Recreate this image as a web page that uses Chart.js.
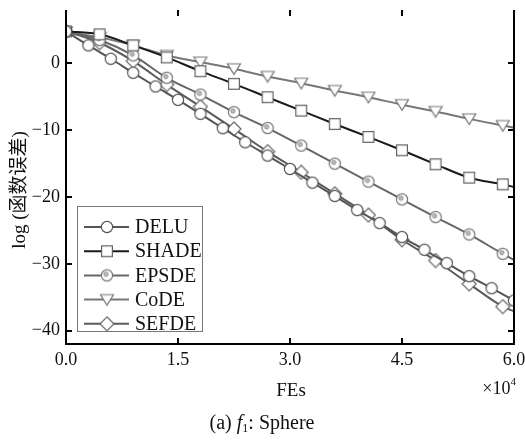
<!DOCTYPE html>
<html>
<head>
<meta charset="utf-8">
<script src="https://cdn.jsdelivr.net/npm/chart.js@4/dist/chart.umd.min.js"></script>
<style>
  html, body { margin: 0; padding: 0; background: #fff; }
</style>
</head>
<body>
<canvas id="myChart" width="525" height="443"></canvas>
<script>
// FEs (x10^4)
const FE_DELU = [0, 0.3, 0.6, 0.9, 1.2, 1.5, 1.8, 2.1, 2.4, 2.7, 3.0, 3.3, 3.6, 3.9, 4.2, 4.5, 4.8, 5.1, 5.4, 5.7, 6.0];
const FE_OTHER = [0, 0.45, 0.9, 1.35, 1.8, 2.25, 2.7, 3.15, 3.6, 4.05, 4.5, 4.95, 5.4, 5.85, 6.0];

// log(error)
const DELU = [4.8, 2.7, 0.7, -1.4, -3.45, -5.45, -7.55, -9.7, -11.8, -13.8, -15.8, -17.85, -19.85, -21.95, -23.9, -26.0, -27.9, -29.9, -31.85, -33.65, -35.5];
const SHADE = [4.8, 4.36, 2.7, 0.9, -1.16, -3.05, -5.06, -7.07, -9.07, -11.0, -13.0, -15.1, -17.1, -18.1, -18.5];
const EPSDE = [4.8, 3.5, 1.2, -2.15, -4.66, -7.3, -9.67, -12.3, -15.0, -17.7, -20.35, -23.0, -25.6, -28.5, -29.4];
const CODE = [4.7, 3.9, 2.7, 1.2, 0.2, -0.8, -1.95, -2.96, -4.06, -5.06, -6.17, -7.2, -8.3, -9.3, -9.6];
const SEFDE = [4.8, 3.1, 0.35, -3.16, -6.47, -9.8, -13.2, -16.3, -19.5, -22.7, -26.4, -29.5, -33.0, -36.4, -37.1];

const X_TICKS = [0, 1.5, 3.0, 4.5, 6.0];
const Y_TICKS = [-40, -30, -20, -10, 0];

const SERIF = "'Liberation Serif', 'Times New Roman', serif";

// marker pictures, used on the lines and in the legend
function marker(kind, stroke) {
    const c = document.createElement('canvas');
    c.width = 16; c.height = 16;
    const g = c.getContext('2d');
    g.fillStyle = '#fff';
    g.strokeStyle = stroke;
    g.lineWidth = 1.2;
    g.beginPath();
    if (kind === 'circle' || kind === 'dot') {
        g.arc(8, 8, 5.6, 0, 2 * Math.PI);
    } else if (kind === 'square') {
        g.rect(2.6, 2.6, 10.8, 10.8);
    } else if (kind === 'triangle') {
        g.moveTo(1.5, 3); g.lineTo(14.5, 3); g.lineTo(8, 13.5); g.closePath();
    } else if (kind === 'diamond') {
        g.moveTo(8, 1); g.lineTo(15, 8); g.lineTo(8, 15); g.lineTo(1, 8); g.closePath();
    }
    g.fill();
    g.stroke();
    if (kind === 'dot') {
        g.beginPath();
        g.arc(7, 6.8, 2.2, 0, 2 * Math.PI);
        g.fillStyle = '#bbb';
        g.fill();
        g.strokeStyle = '#888';
        g.lineWidth = 0.8;
        g.stroke();
    }
    return c;
}

const series = [
    {label: 'DELU', fe: FE_DELU, val: DELU, color: '#555', mk: marker('circle', '#555'), every: true},
    {label: 'SHADE', fe: FE_OTHER, val: SHADE, color: '#1a1a1a', mk: marker('square', '#666')},
    {label: 'EPSDE', fe: FE_OTHER, val: EPSDE, color: '#666', mk: marker('dot', '#777')},
    {label: 'CoDE', fe: FE_OTHER, val: CODE, color: '#777', mk: marker('triangle', '#777')},
    {label: 'SEFDE', fe: FE_OTHER, val: SEFDE, color: '#5a5a5a', mk: marker('diamond', '#666')}
];

const datasets = series.map(s => ({
    label: s.label,
    data: s.fe.map((x, i) => ({x: x, y: s.val[i]})),
    borderColor: s.color,
    borderWidth: 2,
    cubicInterpolationMode: 'monotone',
    pointStyle: s.mk,
    pointRadius: s.fe.map((x, i) => (s.every || i < s.fe.length - 1) ? 6 : 0),
    pointHoverRadius: 0
}));

const framePlugin = {
    id: 'frame',
    afterDraw(chart) {
        const ctx = chart.ctx;
        const a = chart.chartArea;
        const xs = chart.scales.x, ys = chart.scales.y;
        ctx.save();
        ctx.strokeStyle = '#000';
        ctx.lineWidth = 2;
        ctx.beginPath();
        ctx.moveTo(a.left, a.top); ctx.lineTo(a.left, a.bottom); ctx.lineTo(a.right, a.bottom); ctx.lineTo(a.right, a.top);
        // inner ticks
        X_TICKS.forEach(v => {
            const px = Math.round(xs.getPixelForValue(v));
            ctx.moveTo(px, a.bottom); ctx.lineTo(px, a.bottom - 6);
            ctx.moveTo(px, a.top); ctx.lineTo(px, a.top + 6);
        });
        Y_TICKS.forEach(v => {
            const py = Math.round(ys.getPixelForValue(v));
            ctx.moveTo(a.left, py); ctx.lineTo(a.left + 6, py);
            ctx.moveTo(a.right, py); ctx.lineTo(a.right - 6, py);
        });
        ctx.stroke();

        // legend
        const lx = 77.5, ly = 206.5, lw = 125, lh = 125;
        ctx.fillStyle = '#fff';
        ctx.fillRect(lx, ly, lw, lh);
        ctx.strokeStyle = '#777';
        ctx.lineWidth = 1;
        ctx.strokeRect(lx, ly, lw, lh);
        ctx.font = '20px ' + SERIF;
        ctx.textBaseline = 'middle';
        ctx.textAlign = 'left';
        series.forEach((s, i) => {
            const y = 227 + i * 24.2;
            ctx.strokeStyle = s.color;
            ctx.lineWidth = 2;
            ctx.beginPath();
            ctx.moveTo(84, y); ctx.lineTo(129, y);
            ctx.stroke();
            ctx.drawImage(s.mk, 107 - 8, y - 8);
            ctx.fillStyle = '#111';
            ctx.fillText(s.label, 135, y + 1);
        });

        // axis titles
        ctx.fillStyle = '#111';
        ctx.textAlign = 'center';
        ctx.font = '19px ' + SERIF;
        ctx.fillText('FEs', 291, 391);

        ctx.textAlign = 'right';
        ctx.font = '11px ' + SERIF;
        ctx.fillText('4', 516, 382);
        const w4 = ctx.measureText('4').width;
        ctx.font = '18px ' + SERIF;
        ctx.fillText('\u00d710', 516 - w4, 389);

        ctx.save();
        ctx.translate(20, 190);
        ctx.rotate(-Math.PI / 2);
        ctx.textAlign = 'center';
        ctx.font = "19px 'Liberation Serif', 'Noto Sans CJK SC', serif";
        ctx.fillText('log (函数误差)', 0, 0);
        ctx.restore();

        // caption
        const parts = [
            {t: '(a) ', f: '20px ' + SERIF, dy: 0},
            {t: 'f', f: 'italic 20px ' + SERIF, dy: 0},
            {t: '1', f: '12px ' + SERIF, dy: 5},
            {t: ': Sphere', f: '20px ' + SERIF, dy: 0}
        ];
        let total = 0;
        parts.forEach(p => { ctx.font = p.f; p.w = ctx.measureText(p.t).width; total += p.w; });
        let cx = 262 - total / 2;
        ctx.textAlign = 'left';
        parts.forEach(p => {
            ctx.font = p.f;
            ctx.fillText(p.t, cx, 424 + p.dy);
            cx += p.w;
        });
        ctx.restore();
    }
};

const chartRef = document.getElementById('myChart').getContext('2d');
new Chart(chartRef, {
    type: 'line',
    data: {datasets: datasets},
    options: {
        responsive: false,
        animation: false,
        layout: {padding: {top: 10, right: 11, left: 0, bottom: 0}},
        plugins: {legend: {display: false}, tooltip: {enabled: false}},
        scales: {
            x: {
                type: 'linear', min: 0, max: 6,
                grid: {display: false, drawTicks: false},
                border: {display: false},
                afterBuildTicks: s => { s.ticks = X_TICKS.map(v => ({value: v})); },
                afterFit: s => { s.height = 99; s.paddingLeft = 0; s.paddingRight = 0; },
                ticks: {
                    padding: 5, color: '#111', maxRotation: 0, autoSkip: false,
                    font: {family: SERIF, size: 18},
                    callback: v => Number(v).toFixed(1)
                }
            },
            y: {
                type: 'linear', min: -42, max: 8,
                grid: {display: false, drawTicks: false},
                border: {display: false},
                afterBuildTicks: s => { s.ticks = Y_TICKS.map(v => ({value: v})); },
                afterFit: s => { s.width = 66; s.paddingTop = 0; s.paddingBottom = 0; },
                ticks: {
                    padding: 6, color: '#111', autoSkip: false,
                    font: {family: SERIF, size: 18},
                    callback: v => v < 0 ? '\u2212' + Math.abs(v) : String(v)
                }
            }
        }
    },
    plugins: [framePlugin]
});
</script>
</body>
</html>
